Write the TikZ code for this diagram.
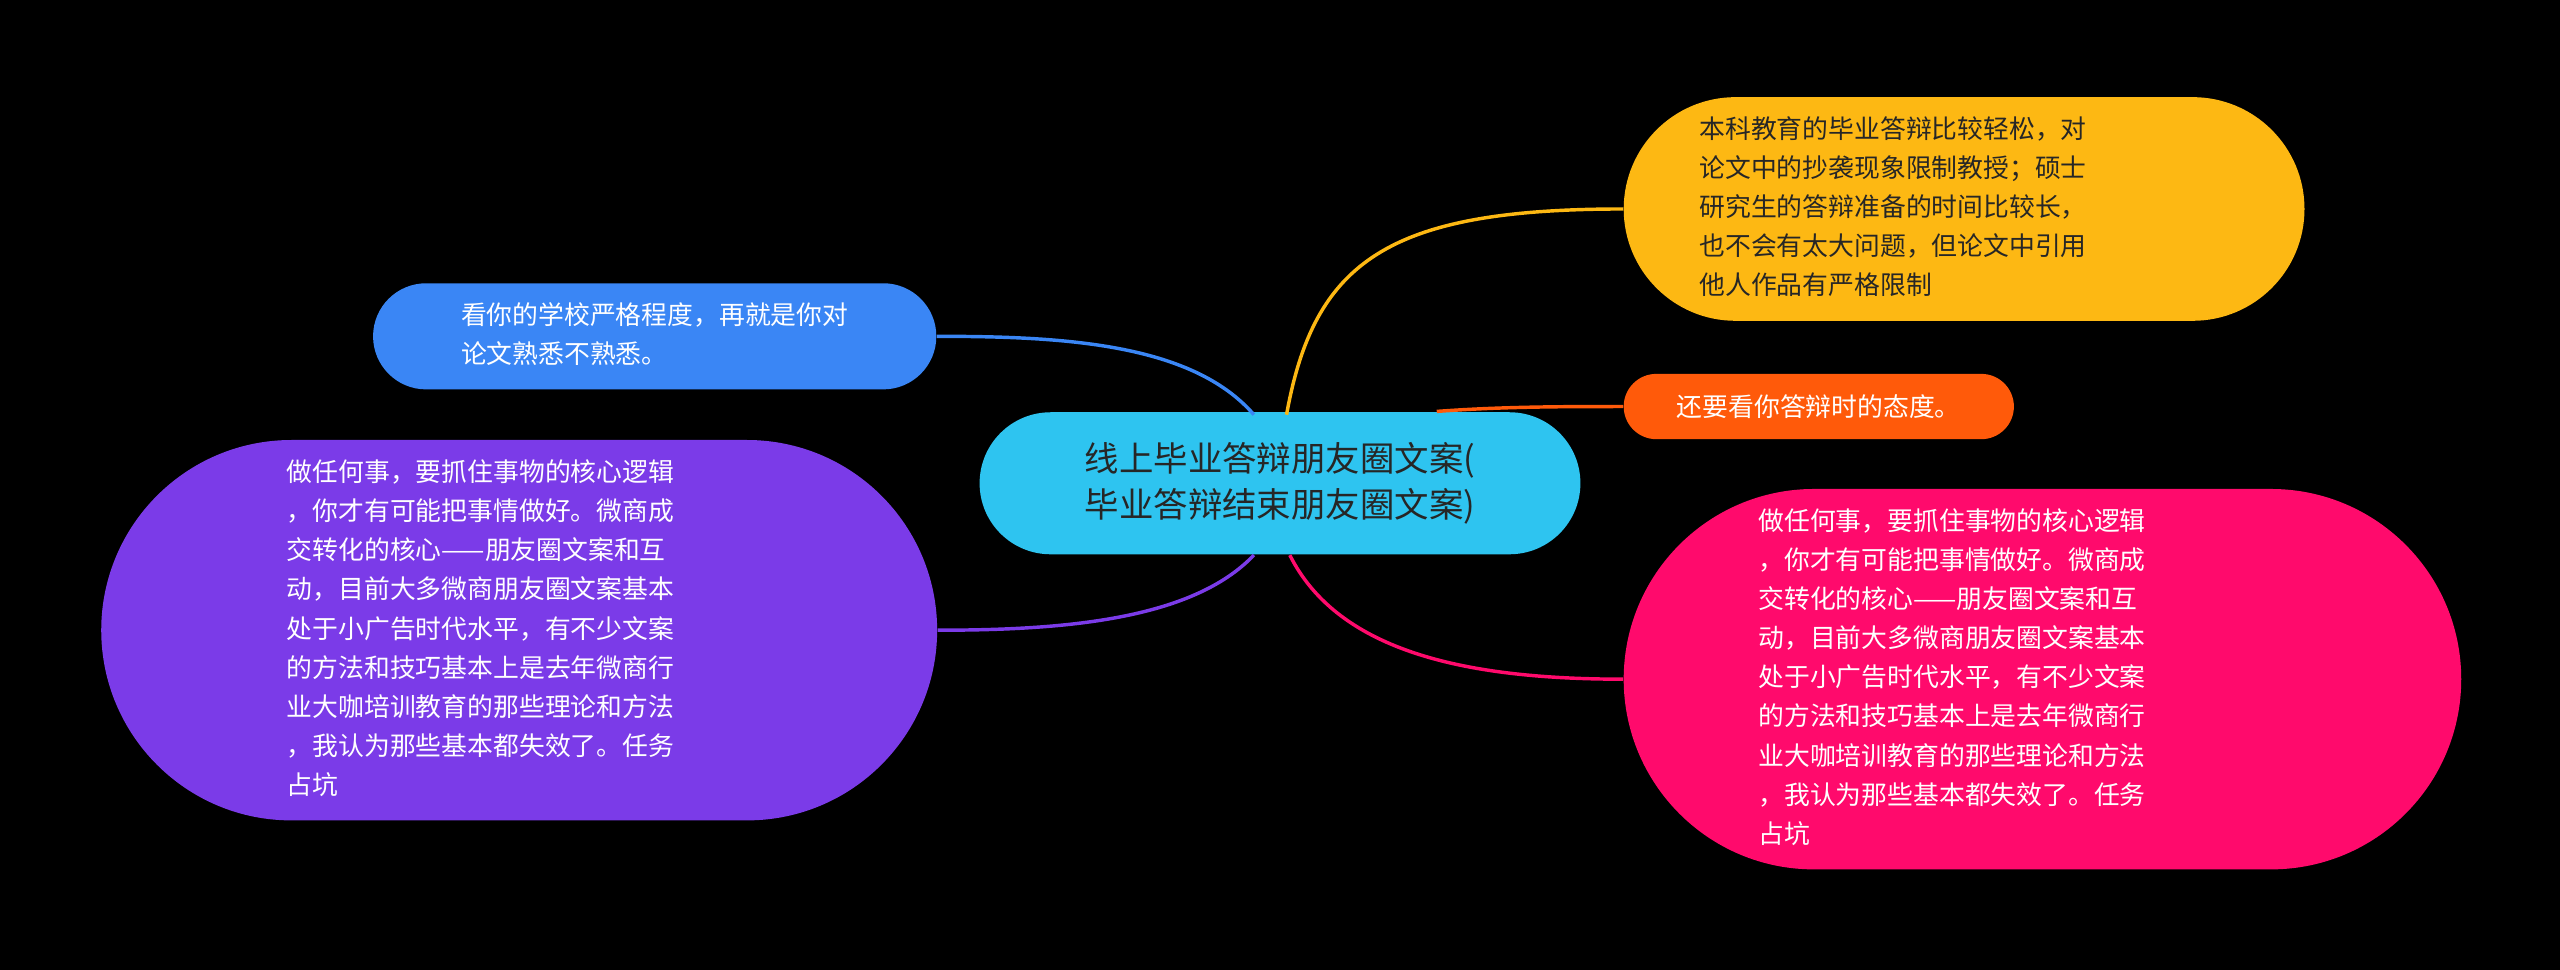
\documentclass[tikz,border=0pt]{standalone}
\usepackage{fontspec}
\setmainfont{Noto Sans CJK SC}
\usetikzlibrary{shapes.misc}
\definecolor{cc}{HTML}{2EC4F0}
\definecolor{cy}{HTML}{FDB813}
\definecolor{co}{HTML}{FF5A0A}
\definecolor{cp}{HTML}{FF0A6C}
\definecolor{cb}{HTML}{3A86F5}
\definecolor{cv}{HTML}{7B3BE8}
\tikzset{
 bub/.style={rounded rectangle, inner sep=0pt, align=left, font=\fontsize{9pt}{13.6pt}\selectfont},
 link/.style={line width=1.2pt}
}
\begin{document}
\begin{tikzpicture}[x=0.02cm,y=-0.02cm]
\fill[black] (0,0) rectangle (1568,594);
\useasboundingbox (0,0) rectangle (1568,594);
\node[bub, fill=cc, minimum width=368*0.02cm, minimum height=87*0.02cm, align=center, font=\fontsize{12pt}{16pt}\selectfont, text=black!85] (c) at (784,296) {线上毕业答辩朋友圈文案(\\毕业答辩结束朋友圈文案)};
\node[bub, fill=cy, minimum width=417*0.02cm, minimum height=137*0.02cm, text=black!85] (y) at (1203,128) {\hspace*{-5.5em}\begin{tabular}{@{}l@{}}本科教育的毕业答辩比较轻松，对\\论文中的抄袭现象限制教授；硕士\\研究生的答辩准备的时间比较长，\\也不会有太大问题，但论文中引用\\他人作品有严格限制\end{tabular}};
\node[bub, fill=co, minimum width=239*0.02cm, minimum height=40*0.02cm, text=white] (o) at (1114,249) {还要看你答辩时的态度。};
\node[bub, fill=cp, minimum width=513*0.02cm, minimum height=233*0.02cm, text=white] (p) at (1251,416) {\hspace*{-7em}\begin{tabular}{@{}l@{}}做任何事，要抓住事物的核心逻辑\\，你才有可能把事情做好。微商成\\交转化的核心——朋友圈文案和互\\动，目前大多微商朋友圈文案基本\\处于小广告时代水平，有不少文案\\的方法和技巧基本上是去年微商行\\业大咖培训教育的那些理论和方法\\，我认为那些基本都失效了。任务\\占坑\end{tabular}};
\node[bub, fill=cb, minimum width=345*0.02cm, minimum height=65*0.02cm, text=white] (b) at (401,206) {\begin{tabular}{@{}l@{}}看你的学校严格程度，再就是你对\\论文熟悉不熟悉。\end{tabular}};
\node[bub, fill=cv, minimum width=512*0.02cm, minimum height=233*0.02cm, text=white] (v) at (318,386) {\hspace*{-3em}\begin{tabular}{@{}l@{}}做任何事，要抓住事物的核心逻辑\\，你才有可能把事情做好。微商成\\交转化的核心——朋友圈文案和互\\动，目前大多微商朋友圈文案基本\\处于小广告时代水平，有不少文案\\的方法和技巧基本上是去年微商行\\业大咖培训教育的那些理论和方法\\，我认为那些基本都失效了。任务\\占坑\end{tabular}};
\draw[link, cy] (788,254) .. controls (805,160) and (850,128) .. (y.west);
\draw[link, co] (880,252) .. controls (920,249) and (960,249) .. (o.west);
\draw[link, cp] (790,340) .. controls (820,400) and (900,416) .. (p.west);
\draw[link, cb] (768,254) .. controls (730,210) and (650,206) .. (b.east);
\draw[link, cv] (768,340) .. controls (730,380) and (650,386) .. (v.east);
\end{tikzpicture}
\end{document}
